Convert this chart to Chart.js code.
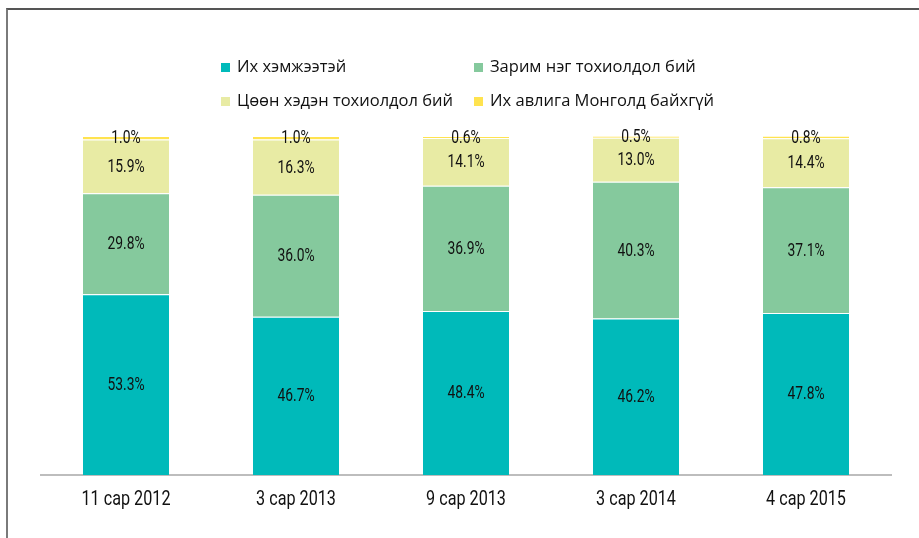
<!DOCTYPE html>
<html>
<head>
<meta charset="utf-8">
<script src="https://cdn.jsdelivr.net/npm/chart.js@4"></script>
<style>
  html, body { margin: 0; padding: 0; background: #fff; }
  #wrap { position: relative; width: 919px; height: 538px; overflow: hidden; }
  #frame { position: absolute; left: 6px; top: 8px; width: 1000px; height: 600px;
           border-top: 2px solid #555; border-left: 2px solid #7a7a7a; box-sizing: border-box; }
  canvas { position: absolute; left: 0; top: 0; }
</style>
</head>
<body>
<div id="wrap">
  <div id="frame"></div>
  <canvas id="c" width="919" height="538"></canvas>
</div>
<script>
const categories = ["11 сар 2012", "3 сар 2013", "9 сар 2013", "3 сар 2014", "4 сар 2015"];
const seriesNames = ["Их хэмжээтэй", "Зарим нэг тохиолдол бий", "Цөөн хэдэн тохиолдол бий", "Их авлига Монголд байхгүй"];
const large   = [53.3, 46.7, 48.4, 46.2, 47.8];
const some    = [29.8, 36.0, 36.9, 40.3, 37.1];
const few     = [15.9, 16.3, 14.1, 13.0, 14.4];
const none    = [1.0, 1.0, 0.6, 0.5, 0.8];
const colors  = ["#00BABA", "#85C99D", "#E8EBA4", "#FFE34F"];

function condensedText(ctx, text, x, y, sx) {
  ctx.save();
  ctx.translate(x, y);
  ctx.scale(sx, 1);
  ctx.fillText(text, 0, 0);
  ctx.restore();
}

const valueLabels = {
  id: 'valueLabels',
  afterDatasetsDraw(chart) {
    const ctx = chart.ctx;
    ctx.save();
    ctx.font = "18px Roboto, sans-serif";
    ctx.fillStyle = '#111';
    ctx.textAlign = 'center';
    ctx.textBaseline = 'middle';
    chart.data.datasets.forEach((ds, di) => {
      const meta = chart.getDatasetMeta(di);
      meta.data.forEach((bar, i) => {
        const v = ds.data[i];
        const y = (bar.y + bar.base) / 2;
        condensedText(ctx, v.toFixed(1) + '%', bar.x, y + 1, 0.77);
      });
    });
    ctx.restore();
  }
};

const axisLabels = {
  id: 'axisLabels',
  afterDraw(chart) {
    const ctx = chart.ctx;
    const xs = chart.scales.x;
    ctx.save();
    ctx.font = "20px Roboto, sans-serif";
    ctx.fillStyle = '#111';
    ctx.textAlign = 'center';
    ctx.textBaseline = 'middle';
    chart.data.labels.forEach((lab, i) => {
      condensedText(ctx, lab, xs.getPixelForTick(i), xs.bottom + 25, 0.81);
    });
    ctx.restore();
  }
};

const gridLegend = {
  id: 'gridLegend',
  afterDraw(chart) {
    const ctx = chart.ctx;
    ctx.save();
    ctx.font = "16.5px 'Open Sans', sans-serif";
    ctx.textBaseline = 'middle';
    ctx.textAlign = 'left';
    const cols = [221, 474];
    const rows = [67, 101];
    chart.data.datasets.forEach((ds, i) => {
      const x = cols[i % 2], y = rows[Math.floor(i / 2)];
      ctx.fillStyle = ds.backgroundColor;
      ctx.fillRect(x, y - 4, 9, 9);
      ctx.fillStyle = '#111';
      ctx.fillText(ds.label, x + 16, y);
    });
    ctx.restore();
  }
};

const seriesData = [large, some, few, none];

new Chart(document.getElementById('c'), {
  type: 'bar',
  data: {
    labels: categories,
    datasets: seriesNames.map((name, i) => ({
      label: name,
      data: seriesData[i],
      backgroundColor: colors[i],
      borderColor: '#ffffff',
      borderWidth: { top: 1, bottom: 0, left: 0, right: 0 },
      borderSkipped: false,
      categoryPercentage: 1.0,
      barPercentage: 0.506
    }))
  },
  options: {
    responsive: false,
    animation: false,
    devicePixelRatio: 1,
    layout: { padding: { left: 41, right: 28, top: 136, bottom: 63 } },
    plugins: { legend: { display: false }, tooltip: { enabled: false } },
    scales: {
      x: {
        stacked: true,
        grid: { display: false, drawTicks: false },
        border: { display: true, color: '#bdbdbd', width: 2 },
        ticks: { display: false }
      },
      y: {
        stacked: true,
        display: false,
        min: 0,
        max: 100
      }
    }
  },
  plugins: [valueLabels, axisLabels, gridLegend]
});
</script>
</body>
</html>
